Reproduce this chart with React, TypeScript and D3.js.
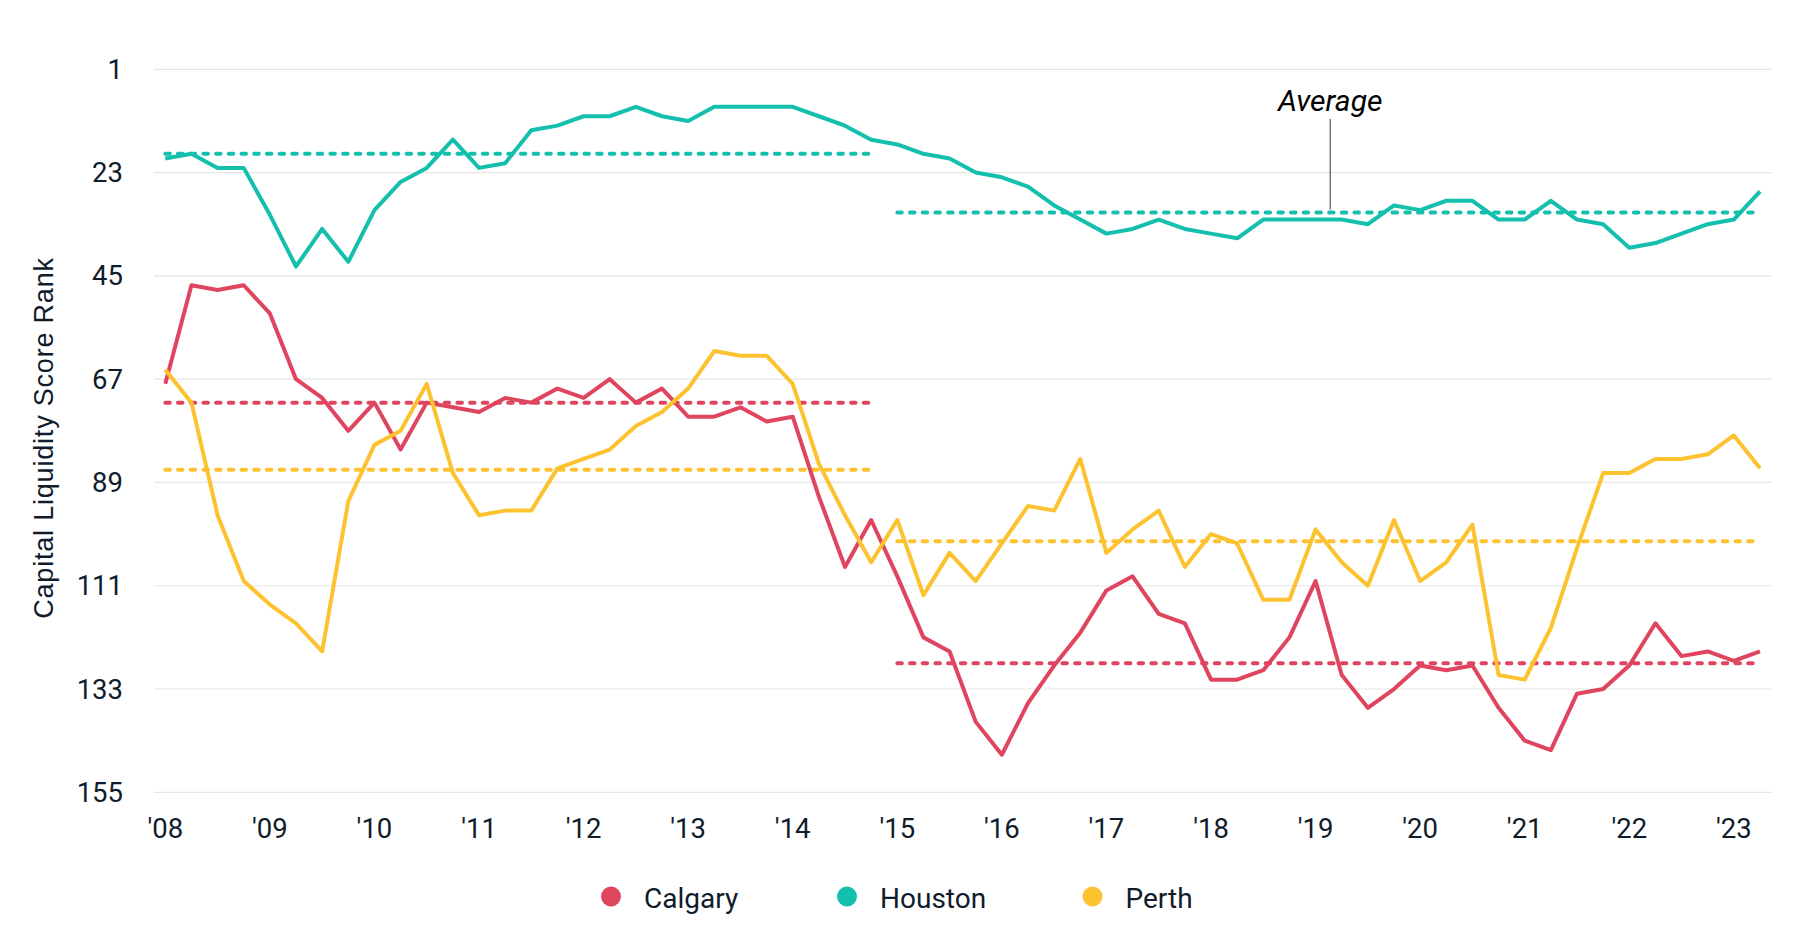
import React from "react";
import * as d3 from "d3";

const startYear = 2008;
const years = ["'08","'09","'10","'11","'12","'13","'14","'15","'16","'17","'18","'19","'20","'21","'22","'23"];
const rankTicks = [1, 23, 45, 67, 89, 111, 133, 155];

const calgary = [68,47,48,47,53,67,71,78,72,82,72,73,74,71,72,69,71,67,72,69,75,75,73,76,75,92,107,97,109,122,125,140,147,136,128,121,112,109,117,119,131,131,129,122,110,130,137,133,128,129,128,137,144,146,134,133,128,119,126,125,127,125];
const houston = [20,19,22,22,32,43,35,42,31,25,22,16,22,21,14,13,11,11,9,11,12,9,9,9,9,11,13,16,17,19,20,23,24,26,30,33,36,35,33,35,36,37,33,33,33,33,34,30,31,29,29,33,33,29,33,34,39,38,36,34,33,27];
const perth = [65,72,96,110,115,119,125,93,81,78,68,87,96,95,95,86,84,82,77,74,69,61,62,62,68,85,96,106,97,113,104,110,102,94,95,84,104,99,95,107,100,102,114,114,99,106,111,97,110,106,98,130,131,120,103,87,87,84,84,83,79,86];

const avgStart = [2008, 2015];
const avgEnd = [2014.75, 2023.25];
const calgaryAvg = [72, 127.5];
const houstonAvg = [19, 31.5];
const perthAvg = [86.3, 101.5];

const seriesNames = ["Calgary", "Houston", "Perth"];
const seriesColors = ["#E0455F", "#14C0AD", "#FDC22F"];
const seriesValues = [calgary, houston, perth];
const seriesAvgs = [calgaryAvg, houstonAvg, perthAvg];

const annotationText = "Average";
const annotationYear = 2019.14;

const W = 1812, H = 937;
const FONT = "Roboto, 'Noto Sans', sans-serif";
const TEXT = "#101c2b";

export default function App() {
  const x = d3.scaleLinear().domain([2008, 2023.25]).range([165.3, 1760]);
  const y = d3.scaleLinear().domain([1, 155]).range([69.3, 792.3]);
  const quarters = d3.range(calgary.length).map((i) => startYear + i * 0.25);
  const line = d3
    .line<number>()
    .x((_, i) => x(quarters[i]))
    .y((d) => y(d));

  return (
    <svg
      width={W}
      height={H}
      style={{ position: "absolute", left: 0, top: 0, background: "#fff" }}
      fontFamily={FONT}
    >
      {rankTicks.map((t) => (
        <line key={"g" + t} x1={154} x2={1772} y1={y(t)} y2={y(t)} stroke="#E6E6E6" strokeWidth={1.2} />
      ))}
      {rankTicks.map((t) => (
        <text key={"yt" + t} x={123} y={y(t)} dy="0.35em" textAnchor="end" fontSize={27.5} fill={TEXT}>
          {t}
        </text>
      ))}
      {years.map((lab, i) => (
        <text key={"xt" + lab} x={x(startYear + i)} y={838} textAnchor="middle" fontSize={27.5} fill={TEXT}>
          {lab}
        </text>
      ))}
      <text
        transform={`translate(53, 438) rotate(-90)`}
        textAnchor="middle"
        fontSize={27}
        letterSpacing={0.8}
        fill={TEXT}
        fontFamily="'Liberation Sans', Arial, sans-serif"
      >
        Capital Liquidity Score Rank
      </text>
      {seriesAvgs.map((avgs, s) =>
        avgs.map((v, k) => (
          <line
            key={`avg${s}-${k}`}
            x1={x(avgStart[k])}
            x2={x(avgEnd[k])}
            y1={y(v)}
            y2={y(v)}
            stroke={seriesColors[s]}
            strokeWidth={4}
            strokeDasharray="4.5 8.2"
            strokeLinecap="round"
          />
        ))
      )}
      {seriesValues.map((vals, s) => (
        <path
          key={"l" + s}
          d={line(vals) || ""}
          fill="none"
          stroke={seriesColors[s]}
          strokeWidth={4}
          strokeLinejoin="round"
        />
      ))}
      <line
        x1={x(annotationYear)}
        x2={x(annotationYear)}
        y1={119}
        y2={y(houstonAvg[1]) - 3}
        stroke="#555"
        strokeWidth={1.2}
      />
      <text x={x(annotationYear)} y={111} textAnchor="middle" fontSize={30} fontStyle="italic" fill="#000">
        {annotationText}
      </text>
      {seriesNames.map((n, i) => {
        const cx = [611, 847, 1092.5][i];
        return (
          <g key={"lg" + n}>
            <circle cx={cx} cy={896.5} r={10} fill={seriesColors[i]} />
            <text x={cx + 33} y={907.5} fontSize={28} fill={TEXT}>
              {n}
            </text>
          </g>
        );
      })}
    </svg>
  );
}
